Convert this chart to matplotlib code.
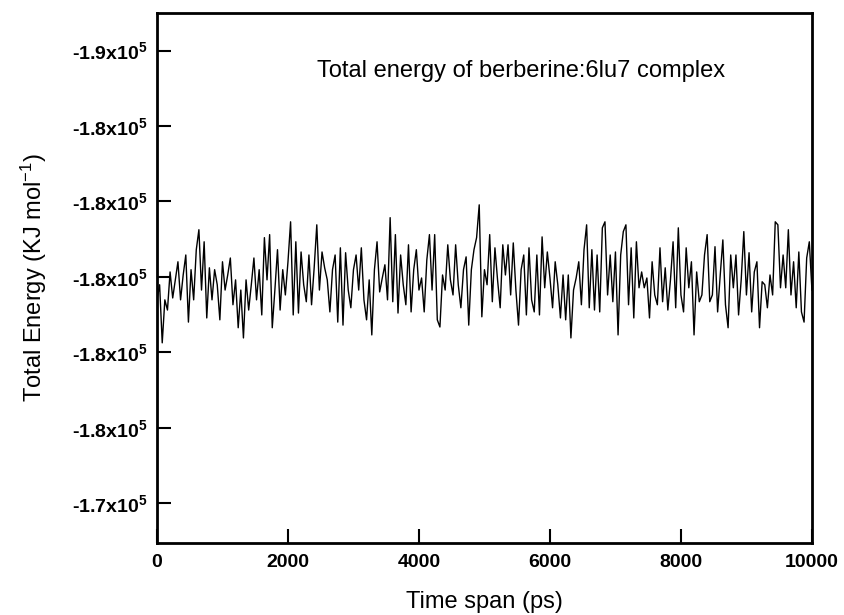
import numpy as np
import matplotlib
matplotlib.use("Agg")
import matplotlib.pyplot as plt
from matplotlib.ticker import FuncFormatter

# Total energy (kJ/mol), one sample every 40 ps
energy = [
    -179390, -179790, -178250, -179390, -179120, -180130, -179440, -179920, -180400, -179390,
    -180050, -180580, -178800, -180190, -179390, -180720, -181250, -179650, -180930, -178910,
    -180240, -179390, -180190, -179790, -178860, -180400, -179650, -180050, -180500, -179260,
    -179920, -178650, -179650, -178380, -179920, -179120, -179790, -180500, -179390, -180190,
    -178990, -181040, -179920, -181120, -178650, -179650, -180720, -179120, -180190, -179520,
    -180400, -181460, -178990, -180930, -179040, -180660, -179790, -179340, -180580, -179260,
    -180240, -181380, -179650, -180660, -180240, -179920, -179070, -180190, -180580, -178800,
    -180770, -178720, -180640, -179650, -179180, -180190, -180580, -179650, -180770, -179390,
    -178860, -179920, -178460, -180190, -180930, -179600, -179970, -180320, -179390, -181570,
    -179340, -181120, -179040, -180580, -179790, -179260, -180850, -179070, -180190, -180720,
    -179650, -179970, -179070, -180450, -181120, -179650, -181120, -178860, -178670, -180050,
    -179650, -180850, -179920, -179520, -180850, -179790, -179180, -180190, -180530, -178720,
    -180190, -180720, -181040, -181910, -178940, -180190, -179790, -181120, -179340, -180770,
    -179920, -179180, -180850, -180050, -180850, -179520, -180900, -179650, -178720, -180190,
    -180580, -178990, -180770, -179390, -179070, -180580, -178990, -181060, -179710, -180660,
    -179970, -179180, -180400, -179790, -178910, -180050, -178860, -180050, -178380, -179650,
    -179970, -180400, -179260, -180720, -181380, -179180, -180720, -179120, -180580, -179070,
    -181300, -181460, -179520, -180580, -179340, -180660, -178460, -180580, -181200, -181380,
    -179260, -180770, -178910, -180930, -179710, -180130, -179710, -179970, -178910, -180400,
    -179520, -179260, -180770, -179340, -180240, -179120, -179920, -180930, -179180, -181300,
    -179520, -179070, -180770, -179710, -180400, -178460, -180130, -179340, -179520, -180580,
    -181120, -179340, -179520, -180800, -179070, -180050, -180980, -179260, -178650, -180580,
    -179710, -180580, -178990, -179920, -181200, -179520, -180640, -179070, -180130, -180400,
    -178650, -179870, -179790, -179180, -180050, -179520, -181460, -181380, -179710, -180580,
    -179710, -181250, -179520, -180400, -179180, -180660, -179070, -178800, -180500, -180930,
    -179650,
]
t_end = 10000  # ps
time = np.linspace(0, t_end, len(energy))

x_ticks = [0, 2000, 4000, 6000, 8000, 10000]
y_ticks = [-186000, -184000, -182000, -180000, -178000, -176000, -174000]

plt.rcParams['font.family'] = ['Liberation Sans', 'DejaVu Sans']
plt.rcParams['mathtext.default'] = 'regular'

fig = plt.figure(figsize=(8.44, 6.15), dpi=100)
ax = fig.add_axes([0.186, 0.117, 0.776, 0.862])

ax.plot(time, energy, color='black', linewidth=1.0)

ax.set_xlim(0, t_end)
ax.set_ylim(-172940, -187000)  # axis runs downward as in the original
ax.set_xticks(x_ticks)
ax.set_yticks(y_ticks)
ax.yaxis.set_major_formatter(FuncFormatter(lambda v, p: '%.1fx10$^5$' % (v / 1e5)))

ax.tick_params(direction='in', length=10, width=1.5, labelsize=14)
ax.tick_params(axis='x', pad=8)
ax.tick_params(axis='y', pad=7)
for lab in ax.get_xticklabels() + ax.get_yticklabels():
    lab.set_fontweight('bold')
for s in ax.spines.values():
    s.set_linewidth(2)

ax.set_xlabel('Time span (ps)', fontsize=17, labelpad=14)
ax.set_ylabel('Total Energy (KJ mol$^{-1}$)', fontsize=17, labelpad=16)

ax.text(0.244, 0.89, 'Total energy of berberine:6lu7 complex', transform=ax.transAxes,
        fontsize=17, va='center', ha='left')

fig.savefig('out.png', dpi=100)
